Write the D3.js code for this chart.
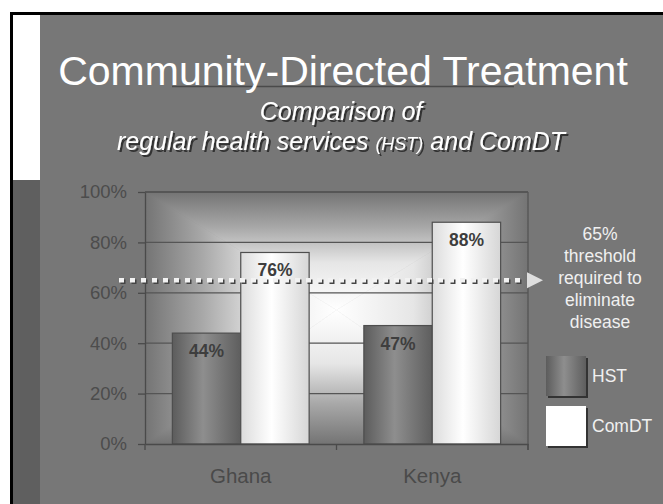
<!DOCTYPE html>
<html>
<head>
<meta charset="utf-8">
<script src="https://cdn.jsdelivr.net/npm/d3@7"></script>
<style>
  body { margin: 0; background: #fff; }
  svg { display: block; font-family: "Liberation Sans", Arial, sans-serif; }
</style>
</head>
<body>
<div id="chart"></div>
<script>
// Chart data
var categories = ["Ghana", "Kenya"];
var seriesNames = ["HST", "ComDT"];
var hstValues = [44, 47];
var comdtValues = [76, 88];
var thresholdValue = 65;
var yTicks = [0, 20, 40, 60, 80, 100];
var thresholdLines = ["65%", "threshold", "required to", "eliminate", "disease"];

var svgWidth = 663, svgHeight = 504;

// Plot area
var plot = { left: 145, right: 528, top: 192, bottom: 444 };

var svg = d3.select("#chart").append("svg")
    .attr("width", svgWidth)
    .attr("height", svgHeight);

var defs = svg.append("defs");

// Drop shadow for subtitle
var shadow = defs.append("filter").attr("id", "shadow")
    .attr("x", "-5%").attr("y", "-20%").attr("width", "110%").attr("height", "140%");
shadow.append("feDropShadow")
    .attr("dx", 2).attr("dy", 2).attr("stdDeviation", 0.4)
    .attr("flood-color", "#333").attr("flood-opacity", 1);

// Slide background
svg.append("rect").attr("x", 10).attr("y", 12).attr("width", svgWidth - 10).attr("height", svgHeight - 12).attr("fill", "#000");
svg.append("rect").attr("x", 13).attr("y", 15).attr("width", svgWidth - 13).attr("height", svgHeight - 15).attr("fill", "#777");
svg.append("rect").attr("x", 13).attr("y", 15).attr("width", 27).attr("height", 165).attr("fill", "#fff");
svg.append("rect").attr("x", 13).attr("y", 180).attr("width", 27).attr("height", svgHeight - 180).attr("fill", "#5f5f5f");

// Title
svg.append("line")
    .attr("x1", 172).attr("x2", 514).attr("y1", 86.5).attr("y2", 86.5)
    .attr("stroke", "#4a4a4a").attr("stroke-width", 1.5);

svg.append("text")
    .attr("x", 343).attr("y", 85)
    .attr("text-anchor", "middle")
    .attr("font-size", 41)
    .attr("fill", "#fff")
    .text("Community-Directed Treatment");

// Subtitle
var sub = svg.append("g")
    .attr("fill", "#fff")
    .attr("font-style", "italic")
    .attr("text-anchor", "middle")
    .attr("filter", "url(#shadow)");
sub.append("text").attr("x", 341).attr("y", 120).attr("font-size", 25).text("Comparison of");
var t = sub.append("text").attr("x", 341).attr("y", 150).attr("font-size", 25);
t.append("tspan").text("regular health services ");
t.append("tspan").attr("font-size", 18).text("(HST)");
t.append("tspan").text(" and ComDT");

// Scales
var x = d3.scaleBand()
    .domain(categories)
    .range([plot.left, plot.right]);

var xSeries = d3.scaleBand()
    .domain(seriesNames)
    .range([0, x.bandwidth()])
    .paddingInner(0)
    .paddingOuter(0.4);

var y = d3.scaleLinear()
    .domain([0, 100])
    .range([plot.bottom, plot.top]);

// Plot background: rectangular "from center" gradient
var cx = (plot.left + plot.right) / 2, cy = (plot.top + plot.bottom) / 2 - 8;
function grad(id, x1, y1, x2, y2) {
    var g = defs.append("linearGradient").attr("id", id)
        .attr("gradientUnits", "userSpaceOnUse")
        .attr("x1", x1).attr("y1", y1).attr("x2", x2).attr("y2", y2);
    g.append("stop").attr("offset", 0).attr("stop-color", "#747474");
    g.append("stop").attr("offset", 0.3).attr("stop-color", "#a8a8a8");
    g.append("stop").attr("offset", 0.6).attr("stop-color", "#e6e6e6");
    g.append("stop").attr("offset", 1).attr("stop-color", "#ffffff");
}
grad("bgTop", 0, plot.top, 0, cy);
grad("bgBottom", 0, plot.bottom, 0, cy);
grad("bgLeft", plot.left, 0, cx, 0);
grad("bgRight", plot.right, 0, cx, 0);

var bg = svg.append("g");
var corners = {
    tl: [plot.left, plot.top], tr: [plot.right, plot.top],
    bl: [plot.left, plot.bottom], br: [plot.right, plot.bottom]
};
[["bgTop", corners.tl, corners.tr], ["bgRight", corners.tr, corners.br],
 ["bgBottom", corners.br, corners.bl], ["bgLeft", corners.bl, corners.tl]].forEach(function(p) {
    bg.append("polygon")
        .attr("points", [p[1], p[2], [cx, cy]].map(d => d.join(",")).join(" "))
        .attr("fill", `url(#${p[0]})`)
        .attr("stroke", `url(#${p[0]})`)
        .attr("stroke-width", 0.6);
});

// Gridlines
svg.append("g")
    .selectAll("line")
    .data(yTicks.filter(d => d > 0))
    .enter()
    .append("line")
    .attr("x1", plot.left).attr("x2", plot.right)
    .attr("y1", d => y(d)).attr("y2", d => y(d))
    .attr("stroke", "#555")
    .attr("stroke-width", 1.3);

// Right border of plot
svg.append("line")
    .attr("x1", plot.right).attr("x2", plot.right)
    .attr("y1", plot.top).attr("y2", plot.bottom + 6)
    .attr("stroke", "#555").attr("stroke-width", 1.3);

// Bar gradients
function barGrad(id, stops) {
    var g = defs.append("linearGradient").attr("id", id)
        .attr("x1", 0).attr("y1", 0).attr("x2", 1).attr("y2", 0);
    stops.forEach(function(s) {
        g.append("stop").attr("offset", s[0]).attr("stop-color", s[1]);
    });
}
barGrad("hstGrad", [[0, "#5c5c5c"], [0.45, "#8e8e8e"], [1, "#5e5e5e"]]);
barGrad("comdtGrad", [[0, "#dcdcdc"], [0.45, "#ffffff"], [1, "#d6d6d6"]]);
var fills = { HST: "url(#hstGrad)", ComDT: "url(#comdtGrad)" };

var barData = [];
categories.forEach(function(c, i) {
    barData.push({ cat: c, series: "HST", value: hstValues[i] });
    barData.push({ cat: c, series: "ComDT", value: comdtValues[i] });
});

var bars = svg.append("g");
bars.selectAll("rect")
    .data(barData)
    .enter()
    .append("rect")
    .attr("x", d => x(d.cat) + xSeries(d.series))
    .attr("y", d => y(d.value))
    .attr("width", xSeries.bandwidth())
    .attr("height", d => y(0) - y(d.value))
    .attr("fill", d => fills[d.series])
    .attr("stroke", "#4e4e4e")
    .attr("stroke-width", 1.2);

bars.selectAll("text")
    .data(barData)
    .enter()
    .append("text")
    .attr("x", d => x(d.cat) + xSeries(d.series) + xSeries.bandwidth() / 2)
    .attr("y", d => y(d.value) + 24)
    .attr("text-anchor", "middle")
    .attr("font-size", 17.5)
    .attr("font-weight", "bold")
    .attr("fill", "#3e3e3e")
    .text(d => d.value + "%");

// Top border of plot
svg.append("line")
    .attr("x1", plot.left).attr("x2", plot.right)
    .attr("y1", y(100)).attr("y2", y(100))
    .attr("stroke", "#555").attr("stroke-width", 1.3);

// Y axis
var yAxis = d3.axisLeft(y)
    .tickValues(yTicks)
    .tickFormat(d => d + "%")
    .tickSize(7)
    .tickSizeOuter(0)
    .tickPadding(11);

var yAxisG = svg.append("g")
    .attr("transform", `translate(${plot.left}, 0)`)
    .call(yAxis);
yAxisG.selectAll("line, path").attr("stroke", "#4a4a4a").attr("stroke-width", 1.3);
yAxisG.selectAll("text")
    .attr("font-family", "Liberation Sans, Arial, sans-serif")
    .attr("font-size", 18.5)
    .attr("fill", "#4c4c4c");

// X axis: baseline, category boundary ticks and labels
var xAxis = d3.axisBottom(x).tickSize(0).tickPadding(24);
var xAxisG = svg.append("g")
    .attr("transform", `translate(0, ${plot.bottom})`)
    .call(xAxis);
xAxisG.select(".domain").attr("stroke", "#4a4a4a").attr("stroke-width", 1.3);
xAxisG.selectAll("text")
    .attr("font-family", "Liberation Sans, Arial, sans-serif")
    .attr("font-size", 20.5)
    .attr("fill", "#4a4a4a");

var boundaries = [plot.left].concat(categories.map(c => x(c) + x.bandwidth()));
svg.append("g")
    .selectAll("line")
    .data(boundaries)
    .enter()
    .append("line")
    .attr("x1", d => d).attr("x2", d => d)
    .attr("y1", plot.bottom).attr("y2", plot.bottom + 6)
    .attr("stroke", "#4a4a4a").attr("stroke-width", 1.3);

// Threshold dotted line with arrow
var ty = y(thresholdValue);
svg.append("line")
    .attr("x1", 119 + 1.5).attr("x2", 523 + 1.5)
    .attr("y1", ty + 1.5).attr("y2", ty + 1.5)
    .attr("stroke", "#444").attr("stroke-width", 4.5)
    .attr("stroke-dasharray", "5,6");
svg.append("line")
    .attr("x1", 119).attr("x2", 523)
    .attr("y1", ty).attr("y2", ty)
    .attr("stroke", "#f2f2f2").attr("stroke-width", 4.5)
    .attr("stroke-dasharray", "5,6");
svg.append("path")
    .attr("d", `M527,${ty - 8} L543,${ty} L527,${ty + 8} Z`)
    .attr("fill", "#dedede");

// Threshold annotation
svg.append("g")
    .selectAll("text")
    .data(thresholdLines)
    .enter()
    .append("text")
    .attr("x", 600)
    .attr("y", (d, i) => 240 + i * 22)
    .attr("text-anchor", "middle")
    .attr("font-size", 17.5)
    .attr("fill", "#f0f0f0")
    .text(d => d);

// Legend
var legend = svg.append("g");
seriesNames.forEach(function(s, i) {
    var ly = 356 + i * 50;
    legend.append("rect")
        .attr("x", 548).attr("y", ly + 2)
        .attr("width", 40).attr("height", 40)
        .attr("fill", "#333");
    legend.append("rect")
        .attr("x", 546).attr("y", ly)
        .attr("width", 40).attr("height", 40)
        .attr("fill", s === "HST" ? fills.HST : "#fff");
    legend.append("text")
        .attr("x", 592).attr("y", ly + 26)
        .attr("font-size", 17.5)
        .attr("fill", "#f0f0f0")
        .text(s);
});
</script>
</body>
</html>
